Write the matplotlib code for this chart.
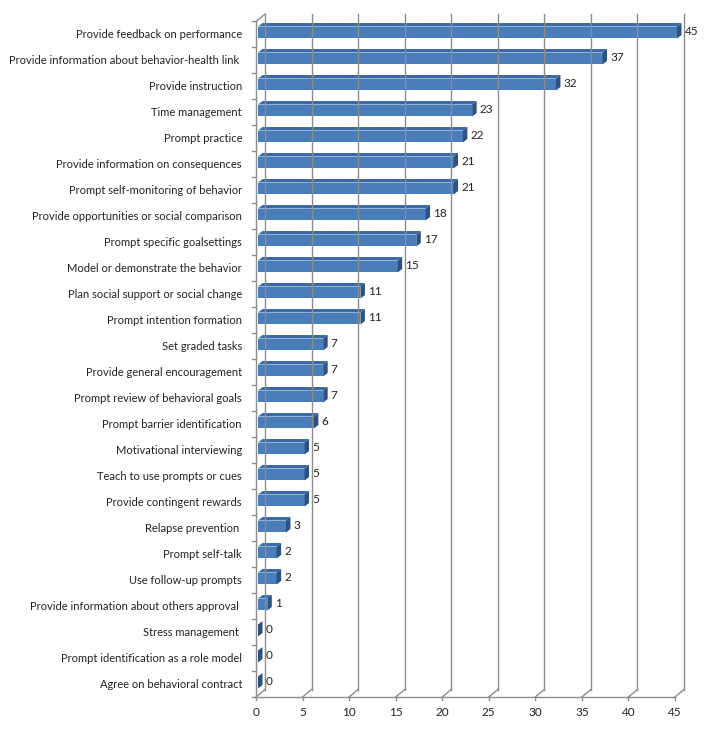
import matplotlib
matplotlib.use("Agg")
import matplotlib.pyplot as plt
from matplotlib.patches import Polygon
from matplotlib.transforms import offset_copy
import numpy as np

categories = [
    "Provide feedback on performance",
    "Provide information about behavior-health link ",
    "Provide instruction",
    "Time management",
    "Prompt practice",
    "Provide information on consequences",
    "Prompt self-monitoring of behavior",
    "Provide opportunities or social comparison",
    "Prompt specific goalsettings",
    "Model or demonstrate the behavior",
    "Plan social support or social change",
    "Prompt intention formation",
    "Set graded tasks",
    "Provide general encouragement",
    "Prompt review of behavioral goals",
    "Prompt barrier identification",
    "Motivational interviewing",
    "Teach to use prompts or cues",
    "Provide contingent rewards",
    "Relapse prevention ",
    "Prompt self-talk",
    "Use follow-up prompts",
    "Provide information about others approval ",
    "Stress management ",
    "Prompt identification as a role model",
    "Agree on behavioral contract",
]
values = [45, 37, 32, 23, 22, 21, 21, 18, 17, 15, 11, 11, 7, 7, 7, 6, 5, 5, 5, 3, 2, 2, 1, 0, 0, 0]
xticks = list(range(0, 50, 5))

plt.rcParams['font.family'] = ['Lato', 'DejaVu Sans']

W, H = 705, 730
fig = plt.figure(figsize=(W / 100, H / 100), dpi=100)
ax = fig.add_axes([256 / W, (H - 697) / H, 419 / W, 676 / H])
n = len(categories)
ax.set_xlim(0, 45)
ax.set_ylim(n - 0.5, -0.5)
for s in ax.spines.values():
    s.set_visible(False)
ax.set_xticks([])
ax.set_yticks([])

grid_c = "#8c8c8c"
txt_c = "#222222"
# px offsets for the 3D depth
back = offset_copy(ax.transData, fig=fig, x=0.09, y=0.075, units='inches')
bar_front = offset_copy(ax.transData, fig=fig, x=0.02, y=0.015, units='inches')
bar_back = offset_copy(ax.transData, fig=fig, x=0.065, y=0.05, units='inches')

bottom, top = n - 0.5, -0.5
# back wall gridlines and floor diagonals
for x in xticks:
    ax.plot([x, x], [bottom, top + 0.02], color=grid_c, lw=1, transform=back, clip_on=False)
    p0 = ax.transData.transform((x, bottom))
    p1 = back.transform((x, bottom))
    ax.plot([p0[0], p1[0]], [p0[1], p1[1]], color=grid_c, lw=1, transform=None, clip_on=False)
    # front tick
    ax.plot([p0[0], p0[0]], [p0[1], p0[1] - 3], color=grid_c, lw=1, transform=None, clip_on=False)
    ax.text(p0[0], p0[1] - 16, str(x), transform=None, ha='center', va='center',
            fontsize=8.5, color=txt_c)

# floor front line and left walls
ax.plot([0, 45], [bottom, bottom], color=grid_c, lw=1, clip_on=False)
ax.plot([0, 0], [bottom, top + 0.02], color=grid_c, lw=1, clip_on=False)
p0 = ax.transData.transform((0, top + 0.02))
p1 = back.transform((0, top + 0.02))
ax.plot([p0[0], p1[0]], [p0[1], p1[1]], color=grid_c, lw=1, transform=None, clip_on=False)
# category tick marks at band boundaries
for b in np.arange(-0.5, n, 1.0):
    p = ax.transData.transform((0, b))
    ax.plot([p[0] - 4, p[0]], [p[1], p[1]], color=grid_c, lw=1, transform=None, clip_on=False)

face_c = "#4a7ebb"
top_c = "#3a6aa5"
end_c = "#2b5282"
hh = 0.23
for i, (cat, v) in enumerate(zip(categories, values)):
    fy0, fy1 = i - hh, i + hh
    # front face corners in pixels
    fl_t = bar_front.transform((0, fy0))
    fr_t = bar_front.transform((v, fy0))
    fr_b = bar_front.transform((v, fy1))
    fl_b = bar_front.transform((0, fy1))
    bl_t = bar_back.transform((0, fy0))
    br_t = bar_back.transform((v, fy0))
    br_b = bar_back.transform((v, fy1))
    ax.add_patch(Polygon([fl_t, bl_t, br_t, fr_t], closed=True, facecolor=top_c,
                         edgecolor='none', transform=None, clip_on=False))
    ax.add_patch(Polygon([fl_t, fr_t, fr_b, fl_b], closed=True, facecolor=face_c,
                         edgecolor='none', transform=None, clip_on=False))
    ax.add_patch(Polygon([fr_t, br_t, br_b, fr_b], closed=True, facecolor=end_c,
                         edgecolor='none', transform=None, clip_on=False))
    # value label
    lx = br_b[0] + 3
    ly = (fr_t[1] + fr_b[1]) / 2 + 1
    ax.text(lx, ly, str(v), transform=None, ha='left', va='center', fontsize=8.5, color=txt_c)
    # category label
    p = ax.transData.transform((0, i))
    ax.text(p[0] - 14, p[1], cat, transform=None, ha='right', va='center', fontsize=8,
            color=txt_c)

fig.savefig("out.png", dpi=100)
